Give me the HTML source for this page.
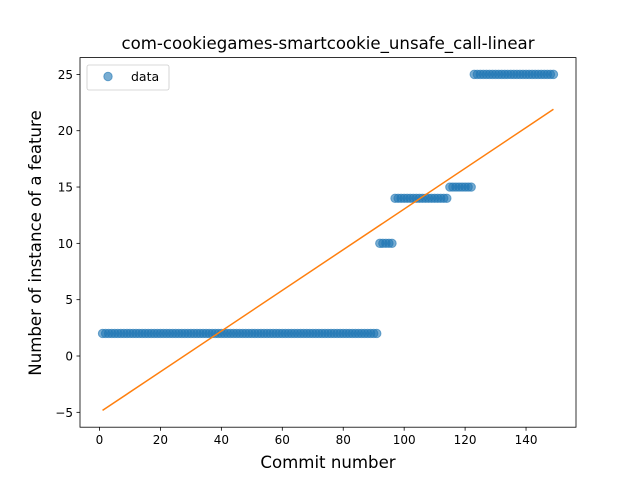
<!DOCTYPE html>
<html><head><meta charset="utf-8"><style>
body{margin:0;background:#fff;}
text{font-family:"DejaVu Sans","Liberation Sans",sans-serif;}
</style></head><body>
<svg id="chart" width="640" height="480" xmlns="http://www.w3.org/2000/svg">
<rect width="640" height="480" fill="#fff"/>
<text x="328" y="49" font-size="16.6" text-anchor="middle">com-cookiegames-smartcookie_unsafe_call-linear</text>
<g id="marks"></g>
<g id="axes"></g>
<rect x="80" y="57.6" width="496" height="369.6" fill="none" stroke="#000" stroke-width="0.8"/>
<text x="328" y="468" font-size="16.6" text-anchor="middle">Commit number</text>
<text transform="translate(41,243) rotate(-90)" font-size="16.6" text-anchor="middle">Number of instance of a feature</text>
<g>
<rect x="87" y="65" width="82" height="25" rx="2" fill="#fff" fill-opacity="0.8" stroke="#ccc" stroke-width="0.8"/>
<circle cx="108" cy="76.5" r="4.2" fill="#1f77b4" fill-opacity="0.6" stroke="#1f77b4" stroke-opacity="0.6"/>
<text x="131" y="81" font-size="12.5">data</text>
</g>
</svg>
<script>
const segStarts = [1, 92, 97, 115, 123];
const segEnds = [91, 96, 114, 122, 149];
const segValues = [2, 10, 14, 15, 25];
const fitX = [1, 149];
const fitY = [-4.83, 21.9];
const xTicks = [0, 20, 40, 60, 80, 100, 120, 140];
const yTicks = [-5, 0, 5, 10, 15, 20, 25];

const X0=80,X1=576,Y0=427.2,Y1=57.6;
const xmin=-6.4,xmax=156.4,ymin=-6.32,ymax=26.49;
const sx=v=>X0+(v-xmin)/(xmax-xmin)*(X1-X0);
const sy=v=>Y0-(v-ymin)/(ymax-ymin)*(Y0-Y1);
const NS="http://www.w3.org/2000/svg";
const marks=document.getElementById('marks');
const axes=document.getElementById('axes');
function mk(tag,attrs,parent){const e=document.createElementNS(NS,tag);for(const k in attrs)e.setAttribute(k,attrs[k]);parent.appendChild(e);return e;}
for(let s=0;s<segStarts.length;s++){
  for(let x=segStarts[s];x<=segEnds[s];x++){
    const c=mk('circle',{cx:sx(x),cy:sy(segValues[s]),r:4.2,fill:'#1f77b4','fill-opacity':0.6,stroke:'#1f77b4','stroke-opacity':0.6},marks);
    
    
  }
}
const ln=mk('line',{x1:sx(fitX[0]),y1:sy(fitY[0]),x2:sx(fitX[1]),y2:sy(fitY[1]),stroke:'#ff7f0e','stroke-width':1.5},marks);


xTicks.forEach(t=>{
  const x=sx(t);
  const l=mk('line',{x1:x,x2:x,y1:Y0,y2:Y0+3.5,stroke:'#000','stroke-width':0.8},axes);
  
  
  const tx=mk('text',{x:x,y:Y0+17,'font-size':12,'text-anchor':'middle'},axes);
  tx.textContent=t;
  
  
});
yTicks.forEach(t=>{
  const y=sy(t);
  const l=mk('line',{x1:X0-3.5,x2:X0,y1:y,y2:y,stroke:'#000','stroke-width':0.8},axes);
  
  
  const tx=mk('text',{x:X0-7,y:y+4.5,'font-size':12,'text-anchor':'end'},axes);
  tx.textContent=t<0?'\u2212'+(-t):t;
  
  
});
</script>
</body></html>
